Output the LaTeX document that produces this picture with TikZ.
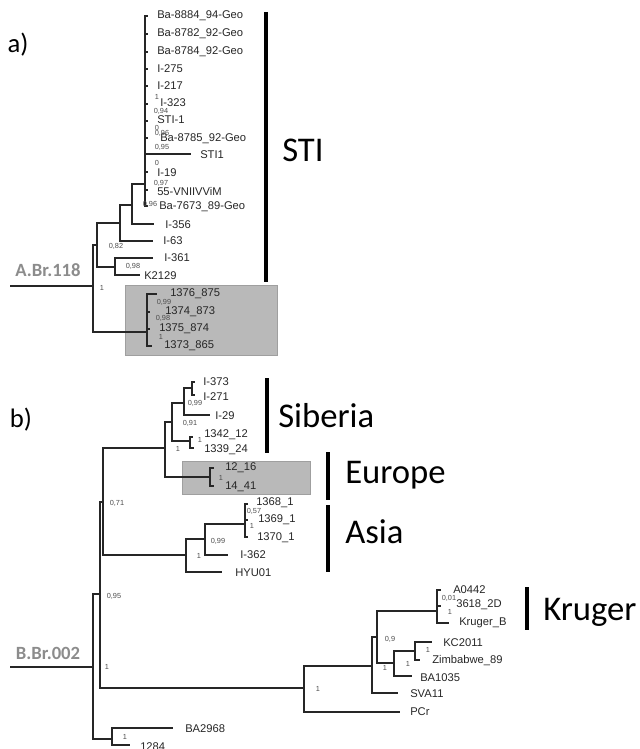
\documentclass[tikz,border=0pt]{standalone}
\usepackage{fontspec}
\setmainfont{Liberation Sans}
\newfontfamily\cladefont{Carlito}
\usepackage{tikz}

\begin{document}
\begin{tikzpicture}[x=0.75pt, y=-0.75pt,
	branch/.style={draw=black!85, line width=1.4pt},
	leaf/.style={anchor=west, inner sep=0pt, text=black!85, font=\fontsize{8.4}{9}\selectfont},
	boot/.style={inner sep=0pt, text=black!70, font=\fontsize{5.5}{6}\selectfont},
	bar/.style={draw=black, line width=3.6pt},
	clade/.style={anchor=west, inner sep=0pt, font=\cladefont\fontsize{26}{28}\selectfont},
	rootname/.style={inner sep=0pt, text=black!45, font=\cladefont\bfseries\fontsize{14}{16}\selectfont},
	panel/.style={inner sep=0pt, font=\cladefont\fontsize{20}{22}\selectfont},
	hilite/.style={fill=gray!55, draw=gray!75, line width=0.6pt}]
			\useasboundingbox (0,0) rectangle (639,749);
			
			\coordinate (boxaA) at (125,285);
			\coordinate (boxaB) at (277,355);
			\coordinate (boxbA) at (182,461);
			\coordinate (boxbB) at (310,494);
			\draw[hilite] (boxaA) rectangle (boxaB);
			\draw[hilite] (boxbA) rectangle (boxbB);
			
			\node[panel] (pa) at (18,45) {a)};
			\node[panel] (pb) at (21,420) {b)};
			
			\coordinate (sa) at (10,286);
			\coordinate (ra) at (93,286);
			\coordinate (nA) at (97,245);
			\coordinate (nB) at (120,223);
			\coordinate (nC) at (115,267);
			\coordinate (nD) at (132,205);
			\coordinate (nP) at (145,184);
			\coordinate (nG) at (147,332);
			\node[rootname] (rna) at (48,270) {A.Br.118};
			
			\coordinate (tB84) at (148,16);
			\coordinate (tB82) at (148,34);
			\coordinate (tB87) at (148,52);
			\coordinate (tI275) at (148,69);
			\coordinate (tI217) at (148,86);
			\coordinate (tI323) at (148,104);
			\coordinate (tSTIa) at (148,121);
			\coordinate (tB85) at (148,138);
			\coordinate (tSTIb) at (191,154);
			\coordinate (tI19) at (148,172);
			\coordinate (tVN) at (148,190);
			\coordinate (tB73) at (148,206);
			\coordinate (tI356) at (154,224);
			\coordinate (tI63) at (153,241);
			\coordinate (tI361) at (153,258);
			\coordinate (tK21) at (140,275);
			\coordinate (t1376) at (157,294);
			\coordinate (t1374) at (150,312);
			\coordinate (t1375) at (150,329);
			\coordinate (t1373) at (152,346);
			
			\draw[branch] (sa) -- (ra);
			\draw[branch] (ra) |- (nA);
			\draw[branch] (ra) |- (nG);
			\draw[branch] (nA) |- (nB);
			\draw[branch] (nA) |- (nC);
			\draw[branch] (nB) |- (nD);
			\draw[branch] (nB) |- (tI63);
			\draw[branch] (nD) |- (nP);
			\draw[branch] (nD) |- (tI356);
			\draw[branch] (nC) |- (tI361);
			\draw[branch] (nC) |- (tK21);
			\draw[branch] (nP) |- (tB84);
			\draw[branch] (nP) |- (tB82);
			\draw[branch] (nP) |- (tB87);
			\draw[branch] (nP) |- (tI275);
			\draw[branch] (nP) |- (tI217);
			\draw[branch] (nP) |- (tI323);
			\draw[branch] (nP) |- (tSTIa);
			\draw[branch] (nP) |- (tB85);
			\draw[branch] (nP) |- (tSTIb);
			\draw[branch] (nP) |- (tI19);
			\draw[branch] (nP) |- (tVN);
			\draw[branch] (nP) |- (tB73);
			\draw[branch] (nG) |- (t1376);
			\draw[branch] (nG) |- (t1374);
			\draw[branch] (nG) |- (t1375);
			\draw[branch] (nG) |- (t1373);
			
			\node[leaf] (lB84) at (157,16) {Ba-8884\_94-Geo};
			\node[leaf] (lB82) at (157,34) {Ba-8782\_92-Geo};
			\node[leaf] (lB87) at (157,52) {Ba-8784\_92-Geo};
			\node[leaf] (lI275) at (157,69) {I-275};
			\node[leaf] (lI217) at (157,86) {I-217};
			\node[leaf] (lI323) at (160,103) {I-323};
			\node[leaf] (lSTIa) at (157,120) {STI-1};
			\node[leaf] (lB85) at (160,139) {Ba-8785\_92-Geo};
			\node[leaf] (lSTIb) at (200,155) {STI1};
			\node[leaf] (lI19) at (157,173) {I-19};
			\node[leaf] (lVN) at (157,191) {55-VNIIVViM};
			\node[leaf] (lB73) at (159,207) {Ba-7673\_89-Geo};
			\node[leaf] (lI356) at (165,225) {I-356};
			\node[leaf] (lI63) at (163,241) {I-63};
			\node[leaf] (lI361) at (164,258) {I-361};
			\node[leaf] (lK21) at (144,276) {K2129};
			\node[leaf] (l1376) at (170,294) {1376\_875};
			\node[leaf] (l1374) at (165,312) {1374\_873};
			\node[leaf] (l1375) at (159,329) {1375\_874};
			\node[leaf] (l1373) at (164,346) {1373\_865};
			
			\node[boot] (ba1) at (157,97) {1};
			\node[boot] (ba2) at (161,111) {0,94};
			\node[boot] (ba3) at (157,128) {0};
			\node[boot] (ba4) at (162,133) {0,96};
			\node[boot] (ba5) at (162,147) {0,95};
			\node[boot] (ba6) at (157,163) {0};
			\node[boot] (ba7) at (161,183) {0,97};
			\node[boot] (ba8) at (150,204) {0,96};
			\node[boot] (ba9) at (116,246) {0,82};
			\node[boot] (ba10) at (133,266) {0,98};
			\node[boot] (ba11) at (102,288) {1};
			\node[boot] (ba12) at (164,302) {0,99};
			\node[boot] (ba13) at (163,318) {0,98};
			\node[boot] (ba14) at (161,337) {1};
			
			\coordinate (stiTop) at (266,12);
			\coordinate (stiBot) at (266,282);
			\draw[bar] (stiTop) -- (stiBot);
			\node[clade] (sti) at (282,150) {STI};
			
			\coordinate (sb) at (10,667);
			\coordinate (rb) at (93,667);
			\coordinate (n95) at (100,594);
			\coordinate (nBA) at (112,739);
			\coordinate (n71) at (103,502);
			\coordinate (nSE) at (165,448);
			\coordinate (nAs) at (186,555);
			\coordinate (nSib) at (172,422);
			\coordinate (nEu) at (210,477);
			\coordinate (n29) at (184,403);
			\coordinate (n42) at (190,441);
			\coordinate (n73) at (192,388);
			\coordinate (n99) at (205,539);
			\coordinate (n68) at (245,524);
			\coordinate (k1) at (304,688);
			\coordinate (k2) at (372,666);
			\coordinate (k3) at (377,637);
			\coordinate (k4) at (394,663);
			\coordinate (k5) at (415,651);
			\coordinate (nA44) at (437,611);
			\node[rootname] (rnb) at (48,653) {B.Br.002};
			
			\coordinate (tI373) at (195,382);
			\coordinate (tI271) at (195,395);
			\coordinate (tI29) at (210,415);
			\coordinate (t1342) at (193,437);
			\coordinate (t1339) at (194,448);
			\coordinate (t1216) at (214,468);
			\coordinate (t1441) at (214,486);
			\coordinate (t1368) at (248,504);
			\coordinate (t1369) at (248,520);
			\coordinate (t1370) at (248,537);
			\coordinate (tI362) at (228,555);
			\coordinate (tHYU) at (222,572);
			\coordinate (tA04) at (441,590);
			\coordinate (t3618) at (441,606);
			\coordinate (tKrB) at (449,623);
			\coordinate (tKC) at (432,642);
			\coordinate (tZim) at (420,660);
			\coordinate (tBA10) at (412,676);
			\coordinate (tSVA) at (398,693);
			\coordinate (tPCr) at (400,712);
			\coordinate (tBA29) at (173,728);
			\coordinate (t1284) at (130,745);
			
			\draw[branch] (sb) -- (rb);
			\draw[branch] (rb) |- (n95);
			\draw[branch] (rb) |- (nBA);
			\draw[branch] (n95) |- (n71);
			\draw[branch] (n95) |- (k1);
			\draw[branch] (n71) |- (nSE);
			\draw[branch] (n71) |- (nAs);
			\draw[branch] (nSE) |- (nSib);
			\draw[branch] (nSE) |- (nEu);
			\draw[branch] (nSib) |- (n29);
			\draw[branch] (nSib) |- (n42);
			\draw[branch] (n29) |- (n73);
			\draw[branch] (n29) |- (tI29);
			\draw[branch] (n73) |- (tI373);
			\draw[branch] (n73) |- (tI271);
			\draw[branch] (n42) |- (t1342);
			\draw[branch] (n42) |- (t1339);
			\draw[branch] (nEu) |- (t1216);
			\draw[branch] (nEu) |- (t1441);
			\draw[branch] (nAs) |- (n99);
			\draw[branch] (nAs) |- (tHYU);
			\draw[branch] (n99) |- (n68);
			\draw[branch] (n99) |- (tI362);
			\draw[branch] (n68) |- (t1368);
			\draw[branch] (n68) |- (t1369);
			\draw[branch] (n68) |- (t1370);
			\draw[branch] (k1) |- (k2);
			\draw[branch] (k1) |- (tPCr);
			\draw[branch] (k2) |- (k3);
			\draw[branch] (k2) |- (tSVA);
			\draw[branch] (k3) |- (nA44);
			\draw[branch] (k3) |- (k4);
			\draw[branch] (nA44) |- (tA04);
			\draw[branch] (nA44) |- (t3618);
			\draw[branch] (nA44) |- (tKrB);
			\draw[branch] (k4) |- (k5);
			\draw[branch] (k4) |- (tBA10);
			\draw[branch] (k5) |- (tKC);
			\draw[branch] (k5) |- (tZim);
			\draw[branch] (nBA) |- (tBA29);
			\draw[branch] (nBA) |- (t1284);
			
			\node[leaf] (lI373) at (203,382) {I-373};
			\node[leaf] (lI271) at (203,397) {I-271};
			\node[leaf] (lI29) at (215,416) {I-29};
			\node[leaf] (l1342) at (204,435) {1342\_12};
			\node[leaf] (l1339) at (204,450) {1339\_24};
			\node[leaf] (l1216) at (225,468) {12\_16};
			\node[leaf] (l1441) at (225,487) {14\_41};
			\node[leaf] (l1368) at (256,503) {1368\_1};
			\node[leaf] (l1369) at (258,520) {1369\_1};
			\node[leaf] (l1370) at (257,538) {1370\_1};
			\node[leaf] (lI362) at (240,555) {I-362};
			\node[leaf] (lHYU) at (235,573) {HYU01};
			\node[leaf] (lA04) at (453,590) {A0442};
			\node[leaf] (l3618) at (456,605) {3618\_2D};
			\node[leaf] (lKrB) at (459,623) {Kruger\_B};
			\node[leaf] (lKC) at (443,643) {KC2011};
			\node[leaf] (lZim) at (432,661) {Zimbabwe\_89};
			\node[leaf] (lBA10) at (420,678) {BA1035};
			\node[leaf] (lSVA) at (410,694) {SVA11};
			\node[leaf] (lPCr) at (410,712) {PCr};
			\node[leaf] (lBA29) at (185,729) {BA2968};
			\node[leaf] (l1284) at (140,747) {1284};
			
			\node[boot] (bb1) at (195,403) {0,99};
			\node[boot] (bb2) at (190,423) {0,91};
			\node[boot] (bb3) at (200,440) {1};
			\node[boot] (bb4) at (178,449) {1};
			\node[boot] (bb5) at (221,478) {1};
			\node[boot] (bb6) at (117,503) {0,71};
			\node[boot] (bb7) at (254,511) {0,57};
			\node[boot] (bb8) at (252,526) {1};
			\node[boot] (bb9) at (218,541) {0,99};
			\node[boot] (bb10) at (199,556) {1};
			\node[boot] (bb11) at (114,596) {0,95};
			\node[boot] (bb12) at (107,667) {1};
			\node[boot] (bb13) at (318,689) {1};
			\node[boot] (bb14) at (390,639) {0,9};
			\node[boot] (bb15) at (385,668) {1};
			\node[boot] (bb16) at (408,664) {1};
			\node[boot] (bb17) at (428,650) {1};
			\node[boot] (bb18) at (449,598) {0,01};
			\node[boot] (bb19) at (450,612) {1};
			\node[boot] (bb20) at (125,737) {1};
			
			\coordinate (sibTop) at (267,378);
			\coordinate (sibBot) at (267,453);
			\coordinate (euTop) at (328,452);
			\coordinate (euBot) at (328,500);
			\coordinate (asTop) at (328,505);
			\coordinate (asBot) at (328,572);
			\coordinate (krTop) at (527,587);
			\coordinate (krBot) at (527,630);
			\draw[bar] (sibTop) -- (sibBot);
			\draw[bar] (euTop) -- (euBot);
			\draw[bar] (asTop) -- (asBot);
			\draw[bar] (krTop) -- (krBot);
			\node[clade] (sib) at (278,416) {Siberia};
			\node[clade] (eu) at (345,475) {Europe};
			\node[clade] (as) at (345,532) {Asia};
			\node[clade] (kr) at (543,612) {Kruger};
\end{tikzpicture}
\end{document}
